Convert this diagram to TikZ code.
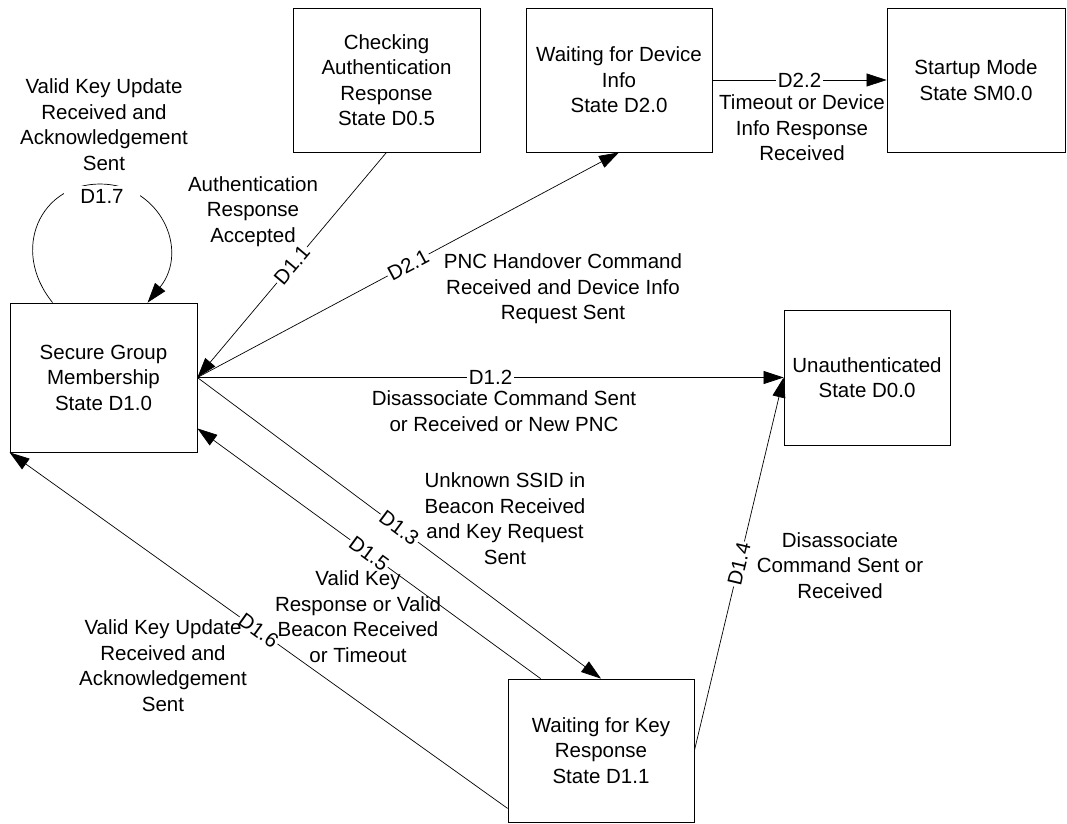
\documentclass[tikz,border=0pt]{standalone}
\usepackage{fontspec}
\setmainfont{Liberation Sans}
\usetikzlibrary{arrows.meta,calc}
\begin{document}
\begin{tikzpicture}[x=1pt,y=-1pt,
  font=\fontsize{20.5}{25.5}\selectfont,
  state/.style={draw=black,line width=0.8pt,rectangle,align=center,inner sep=0pt},
  trans/.style={line width=0.7pt,-{Triangle[length=20pt,width=13pt]}},
  tag/.style={fill=white,inner sep=1.5pt,sloped,midway},
  note/.style={align=center,inner sep=0pt}]
\useasboundingbox (0,0) rectangle (1067,823);

% states
\node[state,minimum width=187pt,minimum height=144pt] (d05) at (386.5,80) {Checking\\Authentication\\Response\\State D0.5};
\node[state,minimum width=186pt,minimum height=144pt] (d20) at (619,80) {Waiting for Device\\Info\\State D2.0};
\node[state,minimum width=178pt,minimum height=144pt] (sm) at (976,80) {Startup Mode\\State SM0.0};
\node[state,minimum width=187pt,minimum height=149pt] (d10) at (103.5,377.5) {Secure Group\\Membership\\State D1.0};
\node[state,minimum width=166pt,minimum height=135pt] (d00) at (867,377.5) {Unauthenticated\\State D0.0};
\node[state,minimum width=186pt,minimum height=143pt] (d11) at (601,750.5) {Waiting for Key\\Response\\State D1.1};

% transitions
\draw[trans] (d05.south) -- node[tag] {D1.1} (d10.east);
\draw[trans] (d10.east) -- node[tag] {D2.1} (d20.south);
\draw[trans] (d10.east) -- node[tag] {D1.2} (d00.west);
\draw[trans] (d10.east) -- node[tag] {D1.3} (d11.north);
\draw[trans] ($(d11.north west)+(33,0)$) -- node[tag] {D1.5} ($(d10.south east)+(0,-24)$);
\draw[trans] ($(d11.south west)+(0,-14)$) -- node[tag] {D1.6} (d10.south west);
\draw[trans] (d11.east) -- node[tag] {D1.4} (d00.west);
\draw[trans] (d20.east) -- node[tag] {D2.2} (sm.west);

% self loop on D1.0
\draw[trans] ($(d10.north west)+(43,0)$)
  .. controls (10,250) and (40,184) .. (100,184)
  .. controls (160,184) and (190,250) .. ($(d10.north west)+(138,0)$);
\node[fill=white,inner sep=0pt,minimum width=76pt,minimum height=20pt] (l17) at (102,196) {D1.7};

% transition conditions
\node[note] (c17) at (104,124.5) {Valid Key Update\\Received and\\Acknowledgement\\Sent};
\node[note] (c11) at (253,211.5) {Authentication\\Response\\Accepted};
\node[note] (c21) at (563,289) {PNC Handover Command\\Received and Device Info\\Request Sent};
\node[note] (c12) at (504,411) {Disassociate Command Sent\\or Received or New PNC};
\node[note] (c13) at (505,518.5) {Unknown SSID in\\Beacon Received\\and Key Request\\Sent};
\node[note] (c15) at (358,616.5) {Valid Key\\Response or Valid\\Beacon Received\\or Timeout};
\node[note] (c16) at (163,665.5) {Valid Key Update\\Received and\\Acknowledgement\\Sent};
\node[note] (c14) at (840,565.5) {Disassociate\\Command Sent or\\Received};
\node[note] (c22) at (802,128) {Timeout or Device\\Info Response\\Received};
\end{tikzpicture}
\end{document}
